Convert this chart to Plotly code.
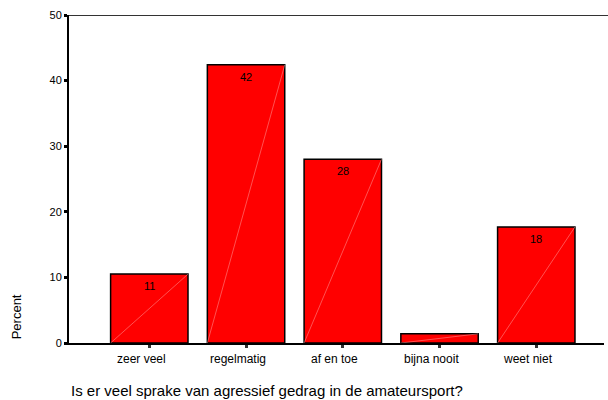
import plotly.graph_objects as go

# Data
categories = ['zeer veel', 'regelmatig', 'af en toe', 'bijna nooit', 'weet niet']
percent = [10.5, 42.4, 28.0, 1.4, 17.7]
bar_labels = ['11', '42', '28', '', '18']
y_ticks = [0, 10, 20, 30, 40, 50]

xpos = list(range(len(categories)))

fig = go.Figure()

fig.add_trace(go.Bar(
    x=xpos, y=percent, width=0.8,
    marker=dict(color='#ff0000', line=dict(color='black', width=1.5)),
    showlegend=False, hoverinfo='skip'
))

# faint diagonal line inside each bar (SPSS rendering look)
for i, v in zip(xpos, percent):
    fig.add_trace(go.Scatter(
        x=[i - 0.4, i + 0.4], y=[0, v], mode='lines',
        line=dict(color='rgba(255,170,170,0.8)', width=0.6),
        showlegend=False, hoverinfo='skip'
    ))

# value labels just under the bar tops
for i, v, lab in zip(xpos, percent, bar_labels):
    if lab:
        fig.add_annotation(x=i, y=v, text=lab, showarrow=False, yshift=-12,
                           yanchor='middle', font=dict(size=11, color='black'))

# category labels sit a little left of their tick in the original
for i, cat in zip(xpos, categories):
    fig.add_annotation(x=i, y=0, text=cat, showarrow=False, xshift=-8, yshift=-16,
                       yanchor='middle', font=dict(size=12, color='black'))

fig.update_layout(
    width=608, height=400,
    margin=dict(l=69, r=4, t=15, b=57),
    plot_bgcolor='white', paper_bgcolor='white',
    font=dict(family='Arial, Liberation Sans, sans-serif', color='black', size=11),
    bargap=0.2,
)

fig.update_xaxes(
    range=[-0.83, 4.7], tickvals=xpos, showticklabels=False,
    showline=True, linecolor='black', linewidth=1.5, mirror=False,
    ticks='outside', ticklen=3, tickwidth=3, tickcolor='#333',
    showgrid=False, zeroline=False,
)
fig.update_yaxes(
    range=[0, 50], tickvals=y_ticks,
    showline=True, linecolor='black', linewidth=2,
    ticks='outside', ticklen=3, tickwidth=3, tickcolor='black',
    tickfont=dict(size=11), showgrid=False, zeroline=False,
)

# top border line at 50
fig.add_shape(type='line', xref='paper', yref='y', x0=0, x1=1.01, y0=50, y1=50,
              line=dict(color='#333333', width=2))

fig.add_annotation(text='Percent', xref='paper', yref='paper', x=-0.098, y=0.08,
                   textangle=-90, showarrow=False, font=dict(size=13),
                   xanchor='center', yanchor='middle')
fig.add_annotation(text='Is er veel sprake van agressief gedrag in de amateursport?',
                   xref='paper', yref='paper', x=0, y=-0.145, xanchor='left',
                   yanchor='middle', showarrow=False, font=dict(size=15))

# drop the default 8px page margin so the figure sits at the window's corner
fig.write_html('out.html', config={'displayModeBar': False},
               post_script="document.body.style.margin='0px';")
